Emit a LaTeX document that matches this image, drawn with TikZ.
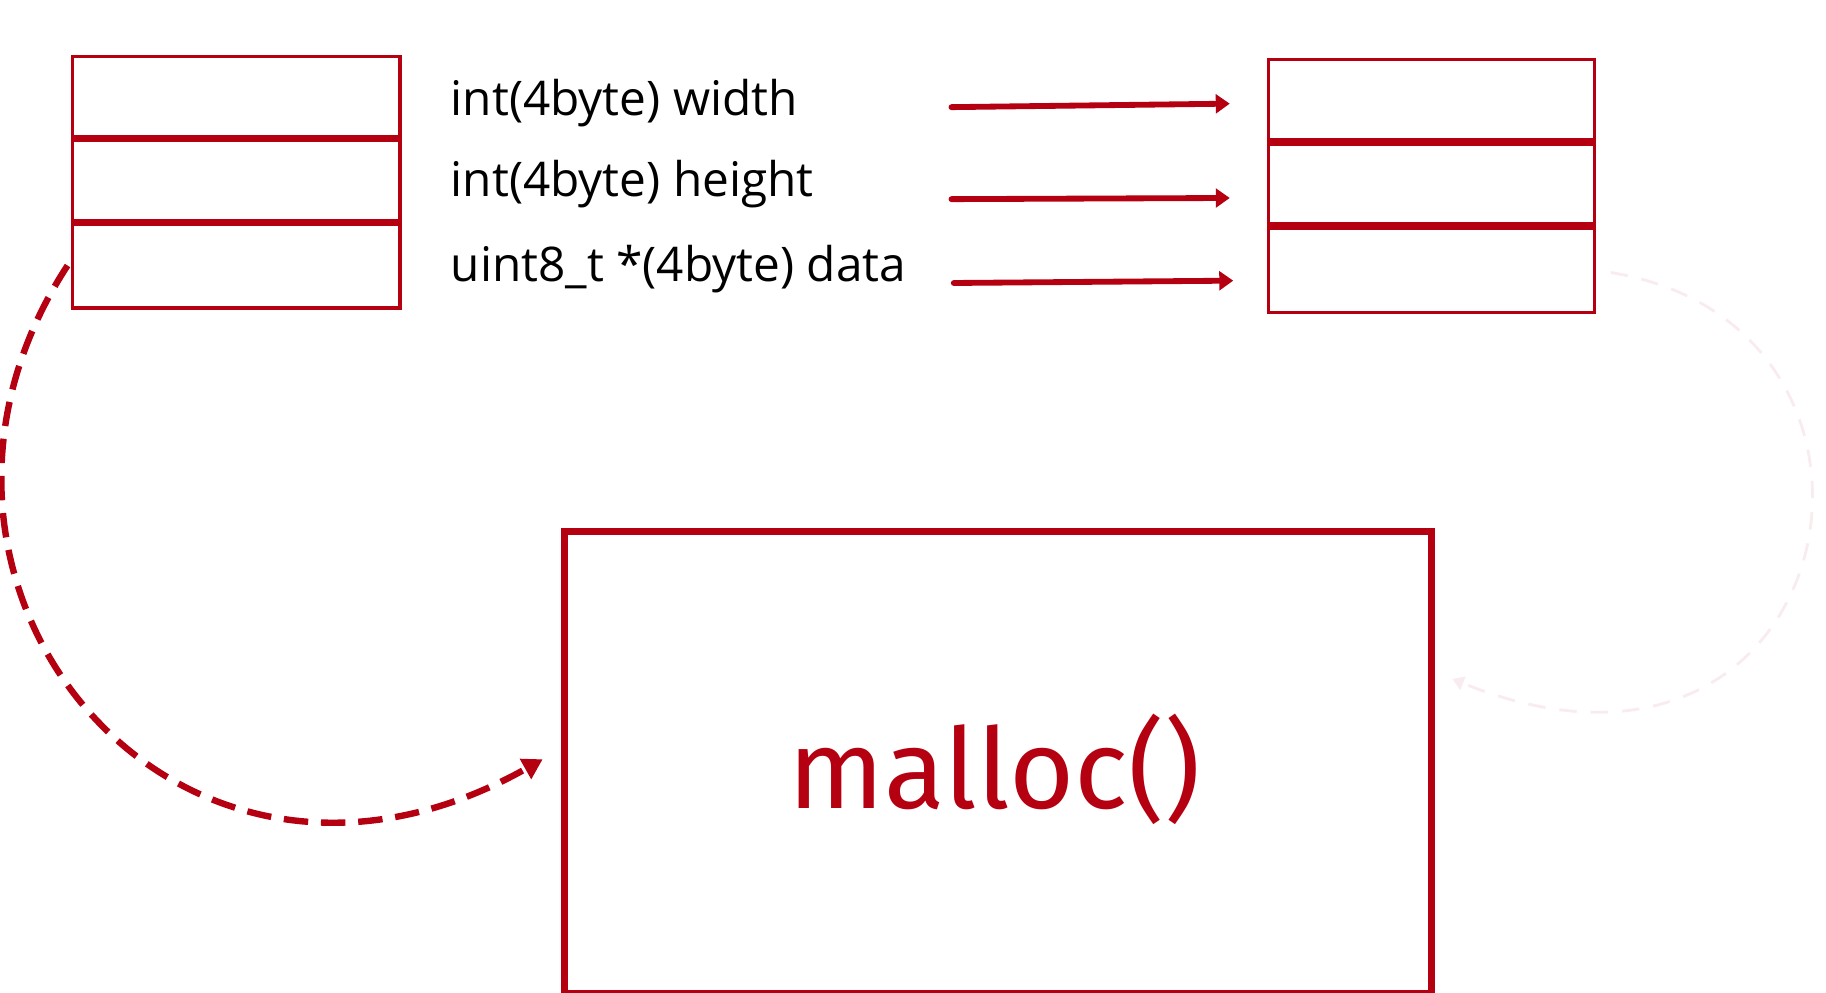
\documentclass[tikz,border=0pt]{standalone}
\usepackage{fontspec}
\setmainfont{Open Sans}
\newfontfamily\mallocfont{Fira Sans}
\usetikzlibrary{arrows.meta}
\definecolor{dred}{RGB}{180,0,16}
\definecolor{faint}{RGB}{249,236,238}
\tikzset{
  stackbox/.style={draw=dred, line width=2.8pt},
  divider/.style={draw=dred, line width=6.5pt},
  bigbox/.style={draw=dred, line width=6pt},
  lbl/.style={anchor=base west, inner sep=0pt, font=\fontsize{41}{46}\selectfont, text=black},
  ptr/.style={draw=dred, line width=5pt, line cap=round, -{Triangle[length=12pt,width=16pt]}},
  dashcurve/.style={draw=dred, line width=5.5pt, dash pattern=on 21pt off 11pt, -{Triangle[length=17pt,width=19pt]}},
  ghostcurve/.style={draw=faint, line width=2.5pt, dash pattern=on 15pt off 12pt, -{Triangle[length=10pt,width=12pt]}}
}
\begin{document}
\begin{tikzpicture}[x=1pt,y=-1pt]
\useasboundingbox (0,0) rectangle (1568,852);
% left stack
\node[stackbox, minimum width=281pt, minimum height=216pt, inner sep=0pt, anchor=north west] (L) at (61,47) {};
\draw[divider] (61,119) -- (342,119);
\draw[divider] (61,191) -- (342,191);
\coordinate (L3) at (58,228);
% right stack
\node[stackbox, minimum width=280pt, minimum height=217pt, inner sep=0pt, anchor=north west] (R) at (1088,50) {};
\draw[divider] (1088,122) -- (1368,122);
\draw[divider] (1088,194) -- (1368,194);
% labels
\node[lbl] (t1) at (387,99) {int(4byte) width};
\node[lbl] (t2) at (387,169) {int(4byte) height};
\node[lbl] (t3) at (387,242) {uint8\_t *(4byte) data};
% arrows
\coordinate (a1s) at (817,92);  \coordinate (a1e) at (1056,89);
\coordinate (a2s) at (817,171); \coordinate (a2e) at (1056,170);
\coordinate (a3s) at (819,243); \coordinate (a3e) at (1059,241);
\draw[ptr] (a1s) -- (a1e);
\draw[ptr] (a2s) -- (a2e);
\draw[ptr] (a3s) -- (a3e);
% malloc box
\node[bigbox, minimum width=744pt, minimum height=397pt, inner sep=0pt, anchor=north west] (M) at (482,453) {};
\node[anchor=base, inner sep=0pt, text=dred, font=\mallocfont\fontsize{96}{106}\selectfont] (mt) at (854,694) {malloc()};
% dashed curve
\coordinate (Mend) at (466,652);
\draw[dashcurve] (L3) .. controls (-120,500) and (150,830) .. (Mend);
% faint curve
\coordinate (Rs) at (1383,234);
\coordinate (Re) at (1247,583);
\draw[ghostcurve] (Rs) .. controls (1668,280) and (1585,720) .. (Re);
\end{tikzpicture}
\end{document}
